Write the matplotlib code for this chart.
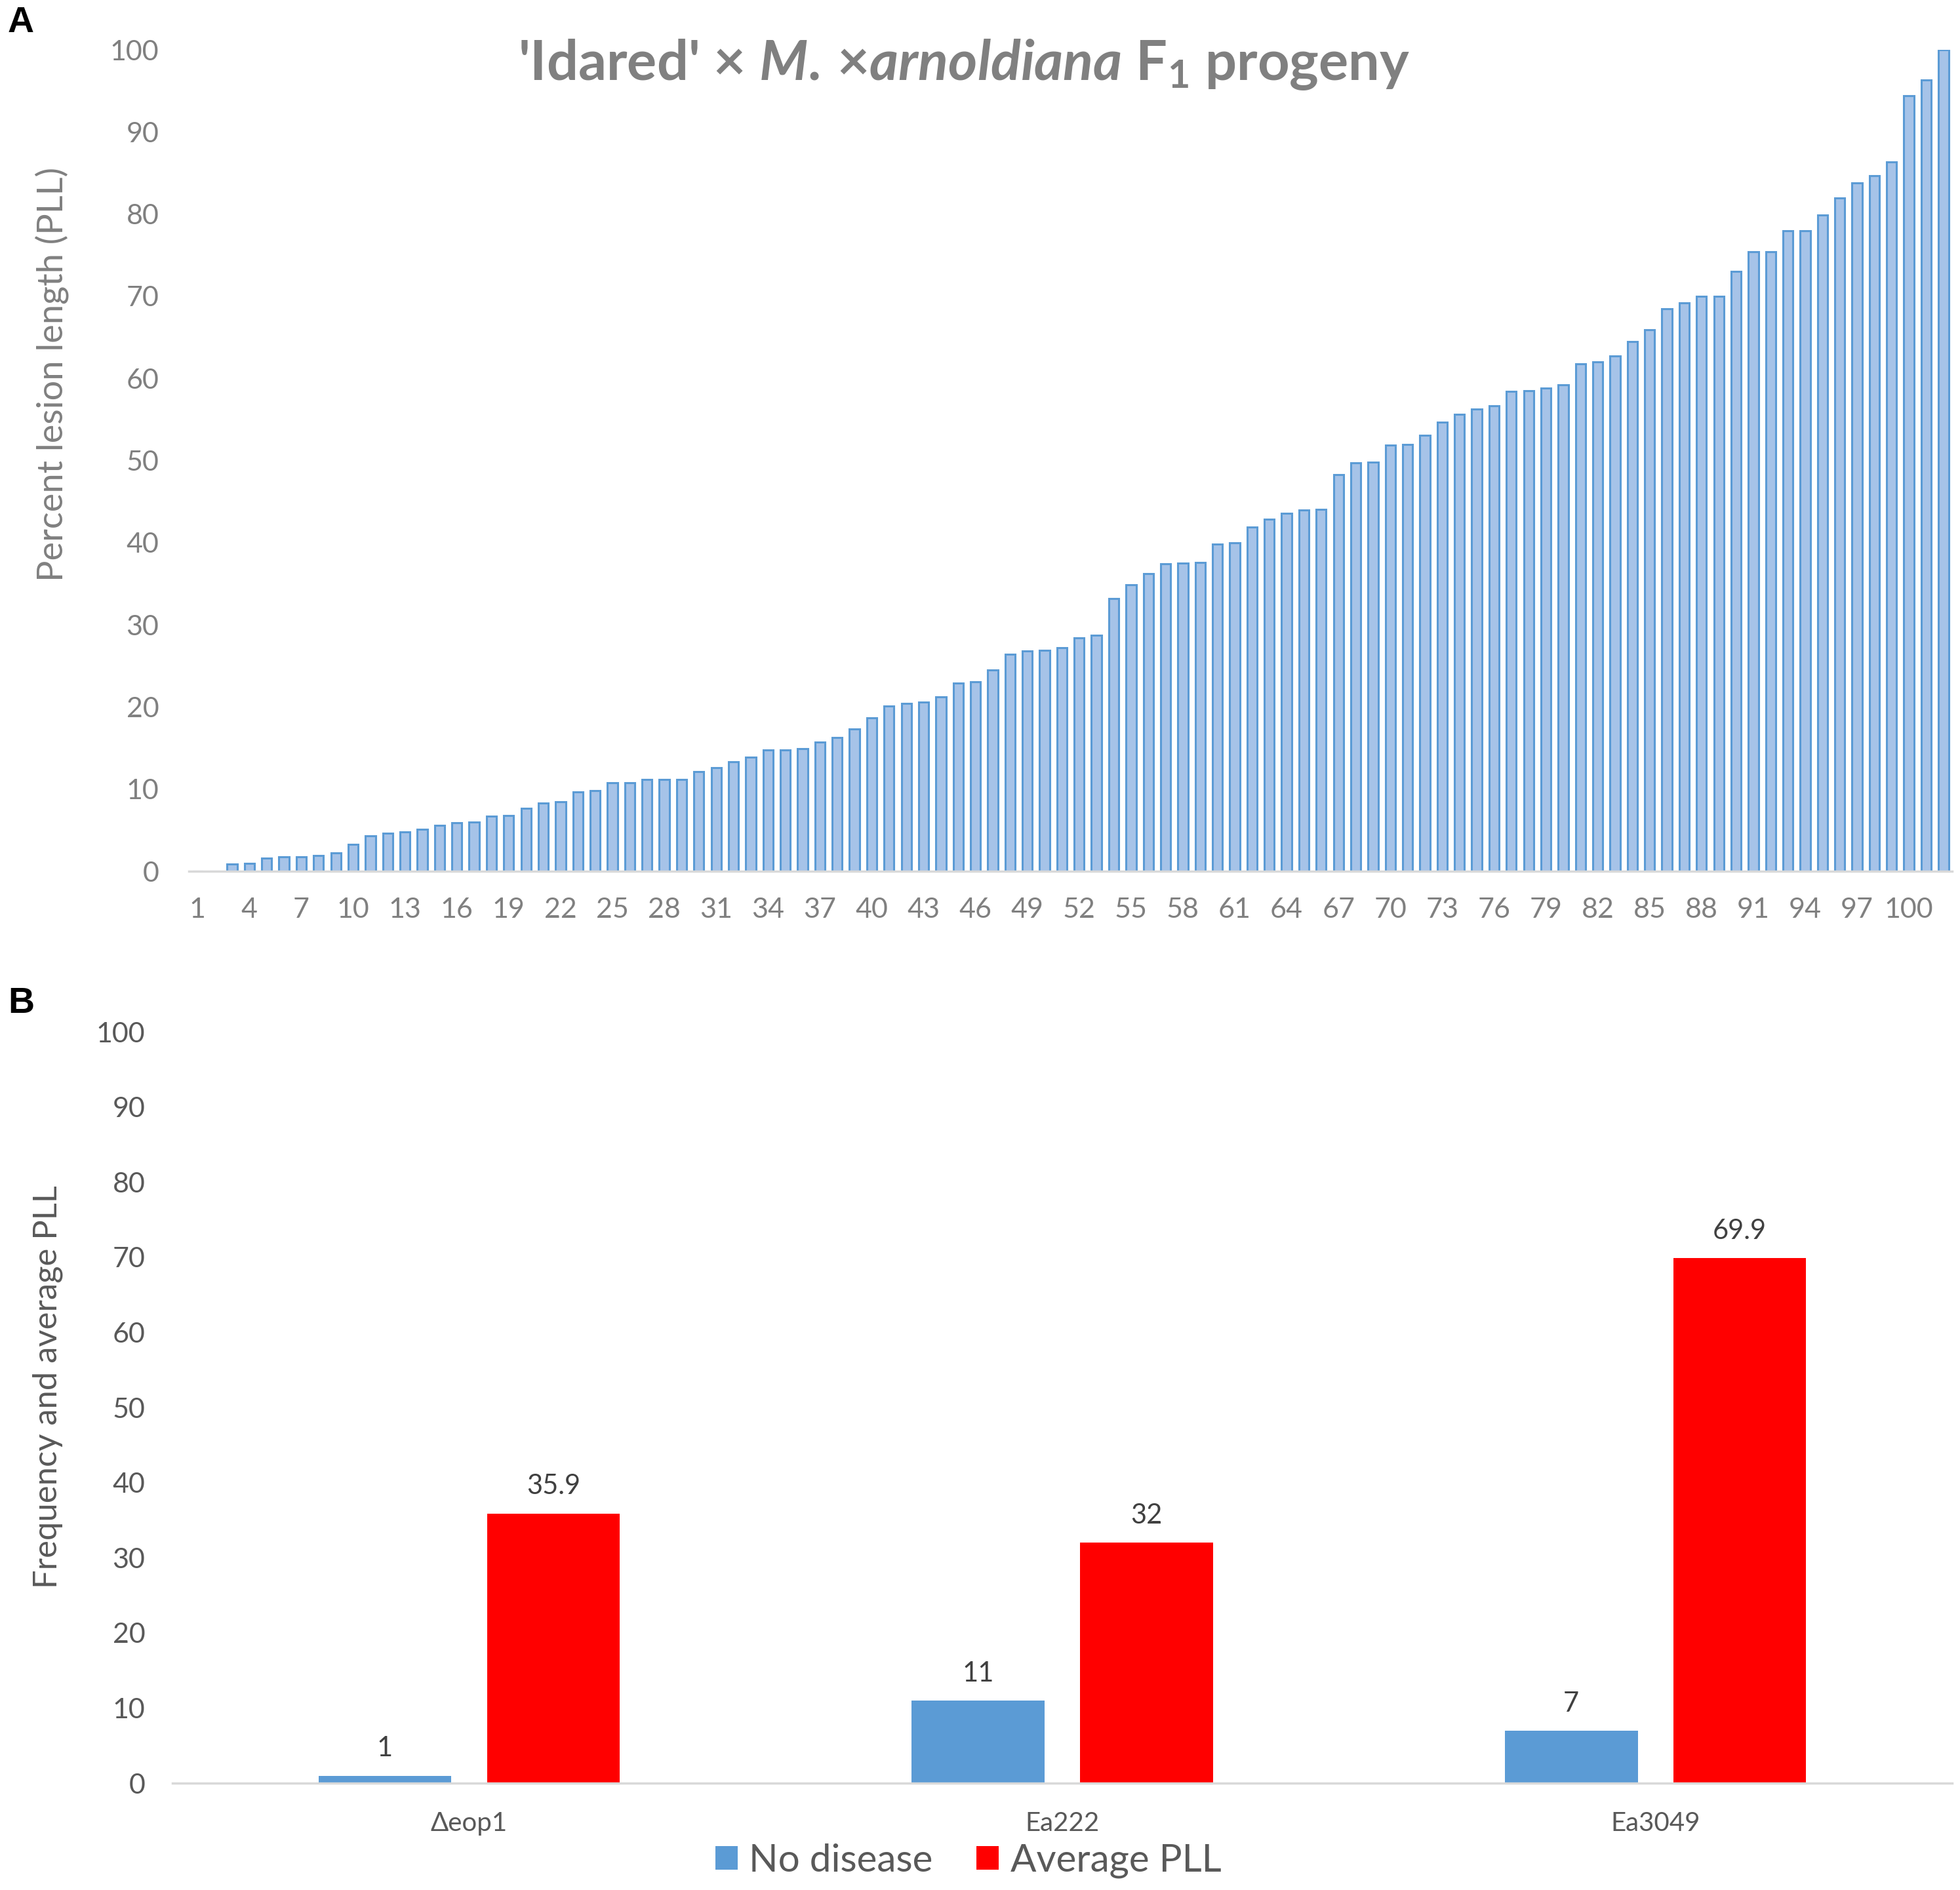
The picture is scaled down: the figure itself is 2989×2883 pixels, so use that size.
import numpy as np
import matplotlib
matplotlib.use("Agg")
import matplotlib.pyplot as plt

# panel A: percent lesion length of the F1 progeny, sorted
pll = [0, 0, 0.9, 1.0, 1.6, 1.8, 1.8, 1.9, 2.2, 3.3,
       4.3, 4.6, 4.8, 5.1, 5.6, 5.9, 6.0, 6.7, 6.8, 7.7,
       8.3, 8.5, 9.7, 9.8, 10.8, 10.8, 11.2, 11.2, 11.2, 12.1,
       12.6, 13.3, 13.9, 14.8, 14.8, 14.9, 15.7, 16.3, 17.3, 18.7,
       20.1, 20.4, 20.6, 21.2, 22.9, 23.1, 24.5, 26.4, 26.8, 26.9,
       27.2, 28.4, 28.7, 33.2, 34.9, 36.2, 37.4, 37.5, 37.6, 39.8,
       40.0, 41.9, 42.9, 43.6, 44.0, 44.1, 48.3, 49.7, 49.8, 51.9,
       52.0, 53.1, 54.7, 55.6, 56.3, 56.7, 58.4, 58.5, 58.8, 59.2,
       61.8, 62.0, 62.7, 64.5, 65.9, 68.5, 69.2, 70.0, 70.0, 73.0,
       75.4, 75.4, 78.0, 78.0, 79.9, 82.0, 83.8, 84.7, 86.4, 94.4,
       96.3, 100.0]

# panel B
strains = ["\u0394eop1", "Ea222", "Ea3049"]
no_disease = [1, 11, 7]
avg_pll = [35.9, 32, 69.9]
b_labels_nd = ["1", "11", "7"]
b_labels_avg = ["35.9", "32", "69.9"]

plt.rcParams['font.family'] = ['Lato', 'DejaVu Sans']
plt.rcParams['mathtext.fontset'] = 'custom'
plt.rcParams['mathtext.rm'] = 'Lato:bold'
plt.rcParams['mathtext.it'] = 'Lato:italic:bold'
plt.rcParams['mathtext.bf'] = 'Lato:bold'

fig = plt.figure(figsize=(29.89, 28.83), dpi=100)

# ---------- A ----------
axA = fig.add_axes([0.0964, 0.539, 0.8996, 0.4346])
idx = np.arange(1, len(pll) + 1)
axA.bar(idx, pll, width=0.58, color='#a6c3e8', edgecolor='#5b9bd5', linewidth=2.2)
axA.set_xlim(0.5, len(pll) + 0.5)
axA.set_ylim(0, 100)
axA.set_yticks(np.arange(0, 101, 10))
axA.set_xticks(idx[::3])
axA.set_xticklabels([str(i) for i in idx[::3]])
axA.tick_params(axis='both', length=0, labelsize=31, colors='#808080')
axA.tick_params(axis='y', pad=33)
axA.tick_params(axis='x', pad=29)
for s in ['top', 'right', 'left']:
    axA.spines[s].set_visible(False)
axA.spines['bottom'].set_color('#d9d9d9')
axA.spines['bottom'].set_linewidth(2.5)

fig.text(0.0265, 0.802, "Percent lesion length (PLL)", rotation=90, ha='center', va='center',
         fontsize=39, color='#808080')
fig.text(0.492, 0.9577, r"'Idared' × $\mathit{M.\,×arnoldiana}$ $\mathrm{F}_{1}$ progeny",
         ha='center', va='baseline', fontsize=61, fontweight='bold', color='#808080')

# ---------- B ----------
axB = fig.add_axes([0.088, 0.0565, 0.908, 0.3975])
x = np.arange(len(strains))
w = 0.224
off = 0.142
bars_nd = axB.bar(x - off, no_disease, width=w, color='#5b9bd5', label='No disease')
bars_avg = axB.bar(x + off, avg_pll, width=w, color='#ff0000', label='Average PLL')
for bars, labs in [(bars_nd, b_labels_nd), (bars_avg, b_labels_avg)]:
    for b, t in zip(bars, labs):
        axB.annotate(t, (b.get_x() + b.get_width() / 2, b.get_height()),
                     xytext=(0, 16), textcoords='offset points', ha='center', va='bottom',
                     fontsize=30, color='#404040')
axB.set_xlim(-0.5, len(strains) - 0.5)
axB.set_ylim(0, 100)
axB.set_yticks(np.arange(0, 101, 10))
axB.set_xticks(x)
axB.set_xticklabels(strains)
axB.tick_params(axis='both', length=0, colors='#595959')
axB.tick_params(axis='y', labelsize=31, pad=30)
axB.tick_params(axis='x', labelsize=29, pad=31)
for s in ['top', 'right', 'left']:
    axB.spines[s].set_visible(False)
axB.spines['bottom'].set_color('#d9d9d9')
axB.spines['bottom'].set_linewidth(2.5)

fig.text(0.0245, 0.266, "Frequency and average PLL", rotation=90, ha='center', va='center',
         fontsize=36.5, color='#595959')
leg = fig.legend(handles=[bars_nd, bars_avg], loc='center', bbox_to_anchor=(0.494, 0.0155),
                 ncol=2, frameon=False, fontsize=42, handlelength=0.58, handleheight=0.58,
                 handletextpad=0.3, columnspacing=1.15)
for t in leg.get_texts():
    t.set_color('#595959')

fig.text(0.004, 0.988, "A", fontsize=40, fontweight='bold', family='Liberation Sans', va='center')
fig.text(0.004, 0.469, "B", fontsize=40, fontweight='bold', family='Liberation Sans', va='center')

fig.savefig("out.png", dpi=100)
